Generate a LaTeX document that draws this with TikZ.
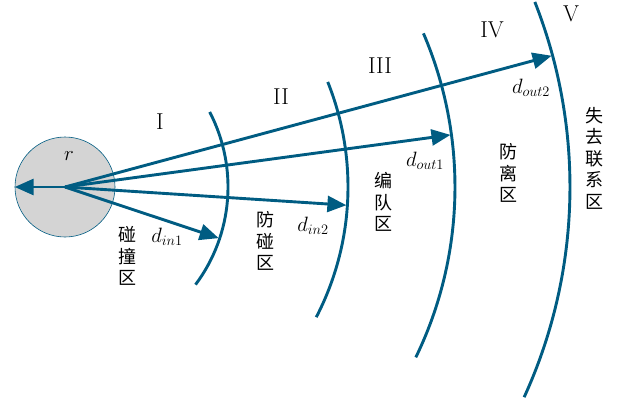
\documentclass[tikz,border=0pt]{standalone}
\usepackage{fontspec}
\usetikzlibrary{arrows.meta,calc}
\newfontfamily\cjk{Noto Sans CJK SC}
\definecolor{zoneblue}{RGB}{0,92,130}
\definecolor{bodygray}{RGB}{212,212,212}
\begin{document}
\begin{tikzpicture}[x=1pt,y=-1pt,
  bound/.style={draw=zoneblue,line width=2.9pt},
  vec/.style={draw=zoneblue,line width=2.9pt,-{Triangle[length=19pt,width=16pt]}},
  roman/.style={font=\fontsize{23}{23}\selectfont},
  mlabel/.style={font=\fontsize{21}{21}\selectfont},
  zone/.style={font=\cjk\fontsize{18}{21.5}\selectfont,align=center,inner sep=0pt}]
\useasboundingbox (0,0) rectangle (619,405);
\coordinate (C) at (65,187);
\node[circle,draw=zoneblue,line width=0.6pt,fill=bodygray,minimum size=100pt,inner sep=0pt] (body) at (C) {};
% boundaries
\draw[bound] ($(C)+(-27.4:163)$) arc[start angle=-27.4,end angle=36.8,radius=163];
\draw[bound] ($(C)+(-21.8:283)$) arc[start angle=-21.8,end angle=27.4,radius=283];
\draw[bound] ($(C)+(-23.2:390)$) arc[start angle=-23.2,end angle=25.9,radius=390];
\draw[bound] ($(C)+(-21.5:505)$) arc[start angle=-21.5,end angle=24.6,radius=505];
% arrow tips
\coordinate (t1) at ($(C)+(18.4:162)$);
\coordinate (t2) at ($(C)+(3.7:282)$);
\coordinate (t3) at ($(C)+(-7.7:389)$);
\coordinate (t4) at ($(C)+(-15.1:504)$);
\draw[vec] (C) -- (body.west);
\draw[vec] (C) -- (t1);
\draw[vec] (C) -- (t2);
\draw[vec] (C) -- (t3);
\draw[vec] (C) -- (t4);
% labels
\node[mlabel] (rl) at (69,156) {$r$};
\node[roman] (z1) at (160,122) {I};
\node[roman] (z2) at (281,97) {II};
\node[roman] (z3) at (380,66) {III};
\node[roman] (z4) at (492,30) {IV};
\node[roman] (z5) at (571,14) {V};
\node[mlabel] (d1) at (167,237) {$d_{in1}$};
\node[mlabel] (d2) at (313,226) {$d_{in2}$};
\node[mlabel] (d3) at (425,161) {$d_{out1}$};
\node[mlabel] (d4) at (531,88) {$d_{out2}$};
\node[zone] (a1) at (127,256) {碰\\撞\\区};
\node[zone] (a2) at (265,241) {防\\碰\\区};
\node[zone] (a3) at (383,202) {编\\队\\区};
\node[zone] (a4) at (508,173) {防\\离\\区};
\node[zone] (a5) at (594,158) {失\\去\\联\\系\\区};
\end{tikzpicture}
\end{document}
